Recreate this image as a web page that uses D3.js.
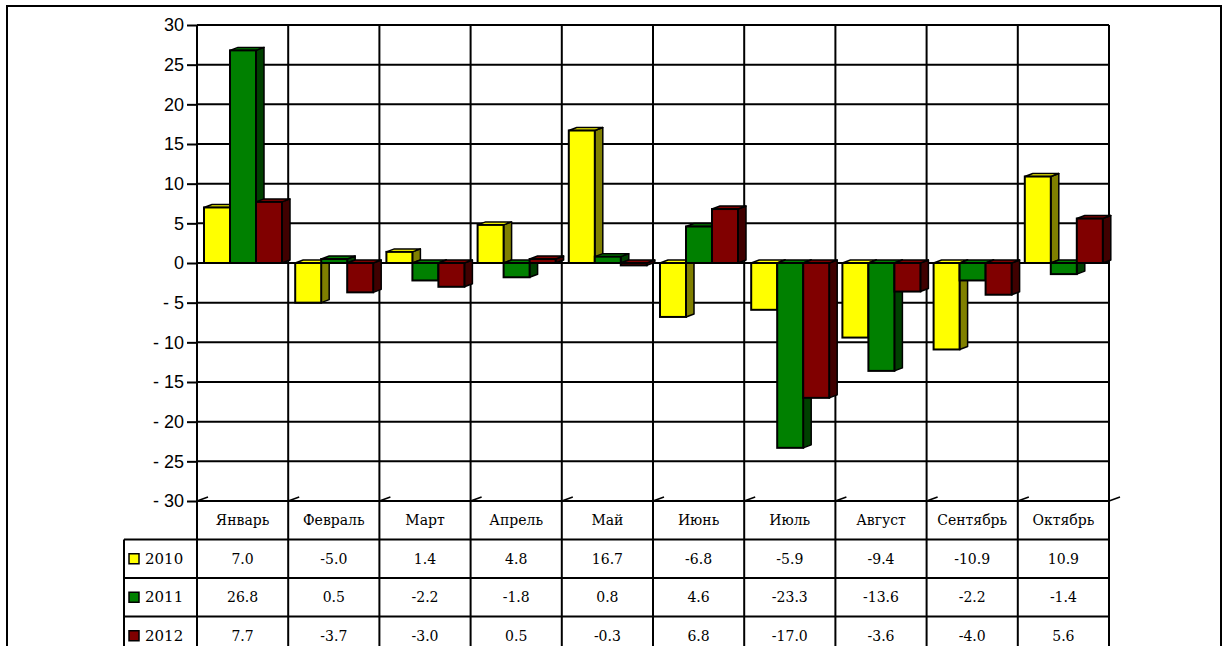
<!DOCTYPE html>
<html>
<head>
<meta charset="utf-8">
<script src="https://cdn.jsdelivr.net/npm/d3@7"></script>
<style>
  body { margin: 0; background: #fff; }
  svg { display: block; }
</style>
</head>
<body>
<script>
// data
var months = ['Январь', 'Февраль', 'Март', 'Апрель', 'Май', 'Июнь', 'Июль', 'Август', 'Сентябрь', 'Октябрь'];
var years = ['2010', '2011', '2012'];
var v2010 = [7.0, -5.0, 1.4, 4.8, 16.7, -6.8, -5.9, -9.4, -10.9, 10.9];
var v2011 = [26.8, 0.5, -2.2, -1.8, 0.8, 4.6, -23.3, -13.6, -2.2, -1.4];
var v2012 = [7.7, -3.7, -3.0, 0.5, -0.3, 6.8, -17.0, -3.6, -4.0, 5.6];
var yTicks = [30, 25, 20, 15, 10, 5, 0, -5, -10, -15, -20, -25, -30];

var series = [v2010, v2011, v2012];
var front = ['#ffff00', '#008000', '#800000'];
var side = ['#808000', '#004000', '#400000'];

var width = 1228, height = 646;
var plotLeft = 197, plotRight = 1109, plotTop = 25, plotBottom = 501;
var rowH = 38.5;
var depthX = 8, depthY = -3;

var svg = d3.select("body").append("svg")
  .attr("width", width)
  .attr("height", height);

// outer frame
svg.append("path")
  .attr("d", "M7,650 V6 H1221 V650")
  .attr("fill", "none")
  .attr("stroke", "#000")
  .attr("stroke-width", 2);

var x = d3.scaleBand().domain(months).range([plotLeft, plotRight]);
var xs = d3.scaleBand().domain(years).range([7, 85]);
var y = d3.scaleLinear().domain([-30, 30]).range([plotBottom, plotTop]);

// horizontal gridlines
svg.append("g").selectAll("line")
  .data(yTicks)
  .enter().append("line")
  .attr("x1", plotLeft).attr("x2", plotRight)
  .attr("y1", d => y(d)).attr("y2", d => y(d))
  .attr("stroke", "#000").attr("stroke-width", 2);

// vertical lines through plot and table
var bounds = months.map(m => x(m)).concat([plotRight]);
svg.append("g").selectAll("line")
  .data(bounds)
  .enter().append("line")
  .attr("x1", d => d).attr("x2", d => d)
  .attr("y1", plotTop).attr("y2", height)
  .attr("stroke", "#000").attr("stroke-width", 2);

// little floor marks
svg.append("g").selectAll("line")
  .data(bounds)
  .enter().append("line")
  .attr("x1", d => d).attr("x2", d => d + 11)
  .attr("y1", plotBottom).attr("y2", plotBottom - 4)
  .attr("stroke", "#000").attr("stroke-width", 1.5);

// y axis
var yAxis = d3.axisLeft(y)
  .tickValues(yTicks)
  .tickSize(10)
  .tickPadding(3)
  .tickFormat(d => d < 0 ? "- " + Math.abs(d) : d);

var ax = svg.append("g")
  .attr("transform", "translate(" + plotLeft + ",0)")
  .call(yAxis);
ax.select(".domain").remove();
ax.selectAll("line").attr("stroke", "#000").attr("stroke-width", 2);
ax.selectAll("text")
  .attr("font-family", "'Liberation Sans', Arial, sans-serif")
  .attr("font-size", 18)
  .attr("fill", "#000");

// 3d bars
var zero = y(0);
series.forEach(function(vals, s) {
  var g = svg.append("g");
  vals.forEach(function(v, i) {
    var x0 = x(months[i]) + xs(years[s]);
    var w = xs.bandwidth();
    var yt = Math.min(y(v), zero), yb = Math.max(y(v), zero);
    // side
    g.append("path")
      .attr("d", "M" + (x0 + w) + "," + yt + " l" + depthX + "," + depthY +
        " V" + (yb + depthY) + " l" + (-depthX) + "," + (-depthY) + "Z")
      .attr("fill", side[s]).attr("stroke", "#000").attr("stroke-width", 1.5)
      .attr("stroke-linejoin", "round");
    // top
    g.append("path")
      .attr("d", "M" + x0 + "," + yt + " l" + depthX + "," + depthY +
        " h" + w + " l" + (-depthX) + "," + (-depthY) + "Z")
      .attr("fill", front[s]).attr("stroke", "#000").attr("stroke-width", 1.5)
      .attr("stroke-linejoin", "round");
    // front
    g.append("rect")
      .attr("x", x0).attr("y", yt)
      .attr("width", w).attr("height", yb - yt)
      .attr("fill", front[s]).attr("stroke", "#000").attr("stroke-width", 2);
  });
});

// data table
var serif = "'DejaVu Serif', 'Liberation Serif', serif";
var tableTop = plotBottom;
var legendLeft = 124;

// row lines
[1, 2, 3].forEach(function(r) {
  svg.append("line")
    .attr("x1", legendLeft).attr("x2", plotRight)
    .attr("y1", tableTop + r * rowH).attr("y2", tableTop + r * rowH)
    .attr("stroke", "#000").attr("stroke-width", 2);
});
svg.append("line")
  .attr("x1", legendLeft).attr("x2", legendLeft)
  .attr("y1", tableTop + rowH).attr("y2", height)
  .attr("stroke", "#000").attr("stroke-width", 2);

// month headers
svg.append("g").selectAll("text")
  .data(months)
  .enter().append("text")
  .attr("x", d => x(d) + x.bandwidth() / 2)
  .attr("y", tableTop + rowH / 2 + 5)
  .attr("text-anchor", "middle")
  .attr("font-family", serif)
  .attr("font-size", 14)
  .text(d => d);

// legend + values
series.forEach(function(vals, s) {
  var cy = tableTop + (s + 1) * rowH + rowH / 2;
  svg.append("rect")
    .attr("x", 129).attr("y", cy - 5)
    .attr("width", 10).attr("height", 10)
    .attr("fill", front[s]).attr("stroke", "#000").attr("stroke-width", 1.5);
  svg.append("text")
    .attr("x", 145).attr("y", cy + 5)
    .attr("font-family", serif).attr("font-size", 15)
    .text(years[s]);
  svg.append("g").selectAll("text")
    .data(vals)
    .enter().append("text")
    .attr("x", (d, i) => x(months[i]) + x.bandwidth() / 2)
    .attr("y", cy + 5)
    .attr("text-anchor", "middle")
    .attr("font-family", serif)
    .attr("font-size", 14)
    .text(d => d.toFixed(1));
});
</script>
</body>
</html>
